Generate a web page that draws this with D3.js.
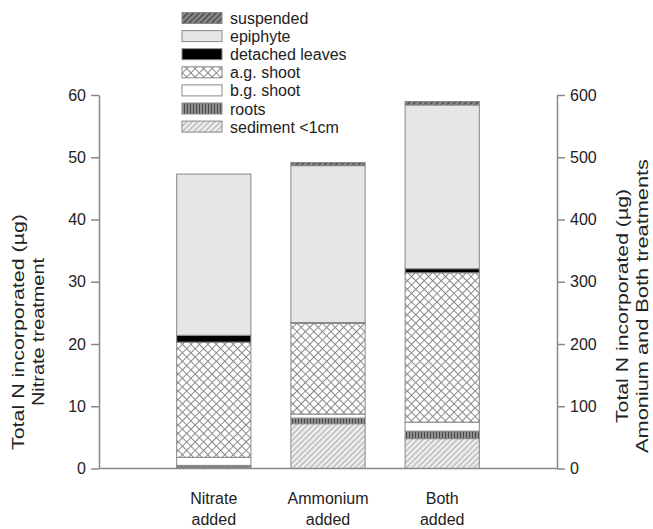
<!DOCTYPE html>
<html>
<head>
<meta charset="utf-8">
<script src="https://cdn.jsdelivr.net/npm/d3@7"></script>
<style>
  body { margin: 0; background: #fff; }
  text { font-family: Arial, "Liberation Sans", sans-serif; fill: #222; }
</style>
</head>
<body>
<svg width="653" height="529"></svg>
<script>
var svg = d3.select("svg");

// data (µg N); Nitrate on left axis, the other two on the right axis
var categories = ["Nitrate added", "Ammonium added", "Both added"];
var layers = ["sediment <1cm", "roots", "b.g. shoot", "a.g. shoot", "detached leaves", "epiphyte", "suspended"];
var nitrate  = [0.2, 0.3, 1.3, 18.5, 1.1, 25.9, 0];
var ammonium = [72, 9, 6.5, 146, 1, 252, 5];
var both     = [48, 12, 14.5, 240, 6.5, 263, 5.5];
var leftTicks = [0, 10, 20, 30, 40, 50, 60];
var rightTicks = [0, 100, 200, 300, 400, 500, 600];

var series = [nitrate, ammonium, both];
var useLeft = [true, false, false];

var axisCol = "#888";
var x0 = 99, x1 = 557, yBase = 468.5, yTop = 95;

var x = d3.scaleBand().domain(categories).range([x0, x1])
  .paddingInner(0.35).paddingOuter(0.68);
var yL = d3.scaleLinear().domain([0, 60]).range([yBase, yTop]);
var yR = d3.scaleLinear().domain([0, 600]).range([yBase, yTop]);

// patterns
var defs = svg.append("defs");
var fills = {};

function hatch(id, size, angle, bg, line, lw) {
  var p = defs.append("pattern").attr("id", id)
    .attr("patternUnits", "userSpaceOnUse")
    .attr("width", size).attr("height", size)
    .attr("patternTransform", "rotate(" + angle + ")");
  p.append("rect").attr("width", size).attr("height", size).attr("fill", bg);
  p.append("line").attr("x1", size / 2).attr("x2", size / 2)
    .attr("y1", 0).attr("y2", size)
    .attr("stroke", line).attr("stroke-width", lw);
  return "url(#" + id + ")";
}

fills["suspended"] = hatch("p_sus", 4, 45, "#8c8c8c", "#4a4a4a", 1.6);
fills["epiphyte"] = "#e6e6e6";
fills["detached leaves"] = "#000";
fills["b.g. shoot"] = "#fff";
fills["roots"] = hatch("p_roots", 3, 0, "#9a9a9a", "#4a4a4a", 1.3);
fills["sediment <1cm"] = hatch("p_sed", 4, 45, "#f2f2f2", "#9a9a9a", 1);

// cross hatch for a.g. shoot
var ag = defs.append("pattern").attr("id", "p_ag")
  .attr("patternUnits", "userSpaceOnUse")
  .attr("width", 6).attr("height", 6)
  .attr("patternTransform", "rotate(45)");
ag.append("rect").attr("width", 6).attr("height", 6).attr("fill", "#fff");
ag.append("path").attr("d", "M0,0.5 H6 M0.5,0 V6")
  .attr("stroke", "#8a8a8a").attr("stroke-width", 1);
fills["a.g. shoot"] = "url(#p_ag)";

// stacked bars
categories.forEach(function(cat, i) {
  var y = useLeft[i] ? yL : yR;
  var acc = 0;
  var g = svg.append("g");
  series[i].forEach(function(v, k) {
    if (v <= 0) return;
    g.append("rect")
      .attr("x", x(cat))
      .attr("width", x.bandwidth())
      .attr("y", y(acc + v))
      .attr("height", y(acc) - y(acc + v))
      .attr("fill", fills[layers[k]])
      .attr("stroke", axisCol)
      .attr("stroke-width", 1);
    acc += v;
  });
});

// axes
var leftAxis = svg.append("g").attr("transform", "translate(" + x0 + ",0)")
  .call(d3.axisLeft(yL).tickValues(leftTicks).tickSize(8).tickSizeOuter(0).tickPadding(5));
var rightAxis = svg.append("g").attr("transform", "translate(" + x1 + ",0)")
  .call(d3.axisRight(yR).tickValues(rightTicks).tickSize(8).tickSizeOuter(0).tickPadding(5));
[leftAxis, rightAxis].forEach(function(a) {
  a.select(".domain").attr("stroke", axisCol).attr("stroke-width", 1.5);
  a.selectAll(".tick line").attr("stroke", axisCol).attr("stroke-width", 1.5);
  a.selectAll(".tick text").style("font-size", "16px").attr("fill", "#222")
    .style("font-family", "Arial, 'Liberation Sans', sans-serif");
});
svg.append("line").attr("x1", x0).attr("x2", x1)
  .attr("y1", yBase).attr("y2", yBase)
  .attr("stroke", axisCol).attr("stroke-width", 1.5);

// category labels
categories.forEach(function(cat) {
  var words = cat.split(" ");
  var t = svg.append("text")
    .attr("x", x(cat) + x.bandwidth() / 2)
    .attr("y", 504)
    .attr("text-anchor", "middle")
    .style("font-size", "16px");
  t.append("tspan").attr("x", x(cat) + x.bandwidth() / 2).text(words[0]);
  t.append("tspan").attr("x", x(cat) + x.bandwidth() / 2).attr("dy", 21).text(words[1]);
});

// axis titles (stretched along their length as in the original)
function title(tx, ty, lines, lens) {
  var g = svg.append("g").attr("transform", "translate(" + tx + "," + ty + ") rotate(-90)");
  lines.forEach(function(s, i) {
    g.append("text").attr("x", 0).attr("y", i * 20)
      .attr("text-anchor", "middle")
      .attr("textLength", lens[i]).attr("lengthAdjust", "spacingAndGlyphs")
      .style("font-size", "16px").text(s);
  });
}
title(24, 332, ["Total N incorporated (µg)", "Nitrate treatment"], [236, 148]);
title(628, 306, ["Total N incorporated (µg)", "Amonium and Both treatments"], [234, 294]);

// legend
var legendKeys = layers.slice().reverse();
var lg = svg.append("g");
legendKeys.forEach(function(k, i) {
  var cy = 18 + i * 18.1;
  lg.append("rect").attr("x", 182).attr("y", cy - 5.5)
    .attr("width", 40).attr("height", 11)
    .attr("fill", fills[k]).attr("stroke", axisCol).attr("stroke-width", 1);
  lg.append("text").attr("x", 230).attr("y", cy + 6)
    .style("font-size", "16px").text(k);
});
</script>
</body>
</html>
